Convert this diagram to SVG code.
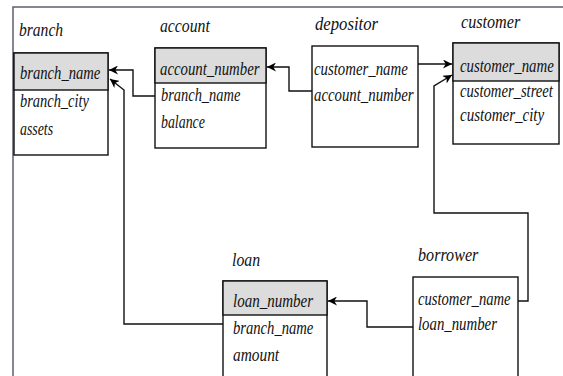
<svg xmlns="http://www.w3.org/2000/svg" width="563" height="376" viewBox="0 0 563 376">
<defs>
<marker id="arr" viewBox="0 0 10 10" refX="10" refY="5" markerWidth="9" markerHeight="9" markerUnits="userSpaceOnUse" orient="auto">
<path d="M0,0 L10,5 L0,10 L3,5 Z" fill="#000"/>
</marker>
<style>
.frame{stroke:#625c70;stroke-width:1.5;fill:none}
.box{fill:#fff;stroke:#111;stroke-width:1.4}
.hdr{fill:#dcdcdc;stroke:#111;stroke-width:1.4}
.c{fill:none;stroke:#111;stroke-width:1.4}
</style>
</defs>
<path class="frame" d="M13,376 V7 H563"/>
<g font-family="'Liberation Serif', 'DejaVu Serif', serif" font-style="italic" font-size="19" fill="#111">
<g id="branch">
<text transform="translate(19,36) scale(0.82,1)">branch</text>
<rect class="box" x="14" y="53" width="94" height="102"/>
<rect class="hdr" x="14" y="53" width="94" height="37"/>
<text transform="translate(20,79) scale(0.77,1)">branch_name</text>
<text transform="translate(20,107) scale(0.76,1)">branch_city</text>
<text transform="translate(20,135) scale(0.73,1)">assets</text>
</g>
<g id="account">
<text transform="translate(160,32) scale(0.83,1)">account</text>
<rect class="box" x="155" y="48" width="111" height="100"/>
<rect class="hdr" x="155" y="48" width="111" height="35"/>
<text transform="translate(160,75) scale(0.78,1)">account_number</text>
<text transform="translate(161,101) scale(0.76,1)">branch_name</text>
<text transform="translate(161,128) scale(0.73,1)">balance</text>
</g>
<g id="depositor">
<text transform="translate(315,30) scale(0.88,1)">depositor</text>
<rect class="box" x="312" y="46" width="106" height="101"/>
<text transform="translate(314,75) scale(0.78,1)">customer_name</text>
<text transform="translate(314,101) scale(0.78,1)">account_number</text>
</g>
<g id="customer">
<text transform="translate(461,28) scale(0.85,1)">customer</text>
<rect class="box" x="453" y="43" width="106" height="101"/>
<rect class="hdr" x="453" y="43" width="106" height="38"/>
<text transform="translate(460,72) scale(0.78,1)">customer_name</text>
<text transform="translate(460,97) scale(0.77,1)">customer_street</text>
<text transform="translate(460,121) scale(0.79,1)">customer_city</text>
</g>
<g id="loan">
<text transform="translate(232,266) scale(0.83,1)">loan</text>
<rect class="box" x="223" y="281" width="104" height="110"/>
<rect class="hdr" x="223" y="281" width="104" height="34"/>
<text transform="translate(233,307) scale(0.79,1)">loan_number</text>
<text transform="translate(233,334) scale(0.77,1)">branch_name</text>
<text transform="translate(233,361) scale(0.81,1)">amount</text>
</g>
<g id="borrower">
<text transform="translate(418,261) scale(0.85,1)">borrower</text>
<rect class="box" x="413" y="277" width="105" height="110"/>
<text transform="translate(418,305) scale(0.77,1)">customer_name</text>
<text transform="translate(418,330) scale(0.78,1)">loan_number</text>
</g>
</g>
<g id="connectors">
<path class="c" d="M155,96 H133 V70 H109" marker-end="url(#arr)"/>
<path class="c" d="M312,91 H289 V67 H267" marker-end="url(#arr)"/>
<path class="c" d="M418,64 H452" marker-end="url(#arr)"/>
<path class="c" d="M518,301 H528 V213 H434 V86 L452,75" marker-end="url(#arr)"/>
<path class="c" d="M413,327 H367 V301 H328" marker-end="url(#arr)"/>
<path class="c" d="M223,324 H124 V90 L110,79" marker-end="url(#arr)"/>
</g>
</svg>
